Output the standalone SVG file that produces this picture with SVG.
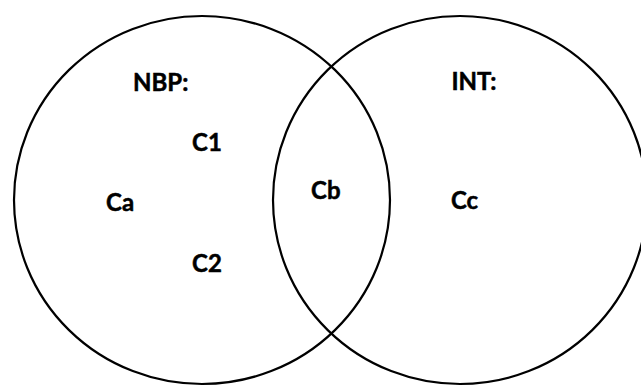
<svg xmlns="http://www.w3.org/2000/svg" width="641" height="386" viewBox="0 0 641 386">
<style>
.set{fill:none;stroke:#000;stroke-width:2.2}
.lbl{font-family:Lato,"Open Sans","Liberation Sans",sans-serif;font-weight:bold;font-size:24px;fill:#000;stroke:#000;stroke-width:0.5}
</style>
<rect width="641" height="386" fill="#fff"/>
<g id="connectors"></g>
<g id="set-nbp">
<ellipse class="set" cx="202" cy="200" rx="188" ry="184"/>
<text class="lbl" x="133" y="90.5">NBP:</text>
</g>
<g id="set-int">
<ellipse class="set" cx="460" cy="200" rx="187" ry="184"/>
<text class="lbl" x="451.5" y="89.5">INT:</text>
</g>
<g id="node-c1"><text class="lbl" x="192" y="151">C1</text></g>
<g id="node-ca"><text class="lbl" x="106" y="210.5">Ca</text></g>
<g id="node-c2"><text class="lbl" x="192" y="271.5">C2</text></g>
<g id="node-cb"><text class="lbl" x="311" y="199">Cb</text></g>
<g id="node-cc"><text class="lbl" x="451" y="209">Cc</text></g>
</svg>
